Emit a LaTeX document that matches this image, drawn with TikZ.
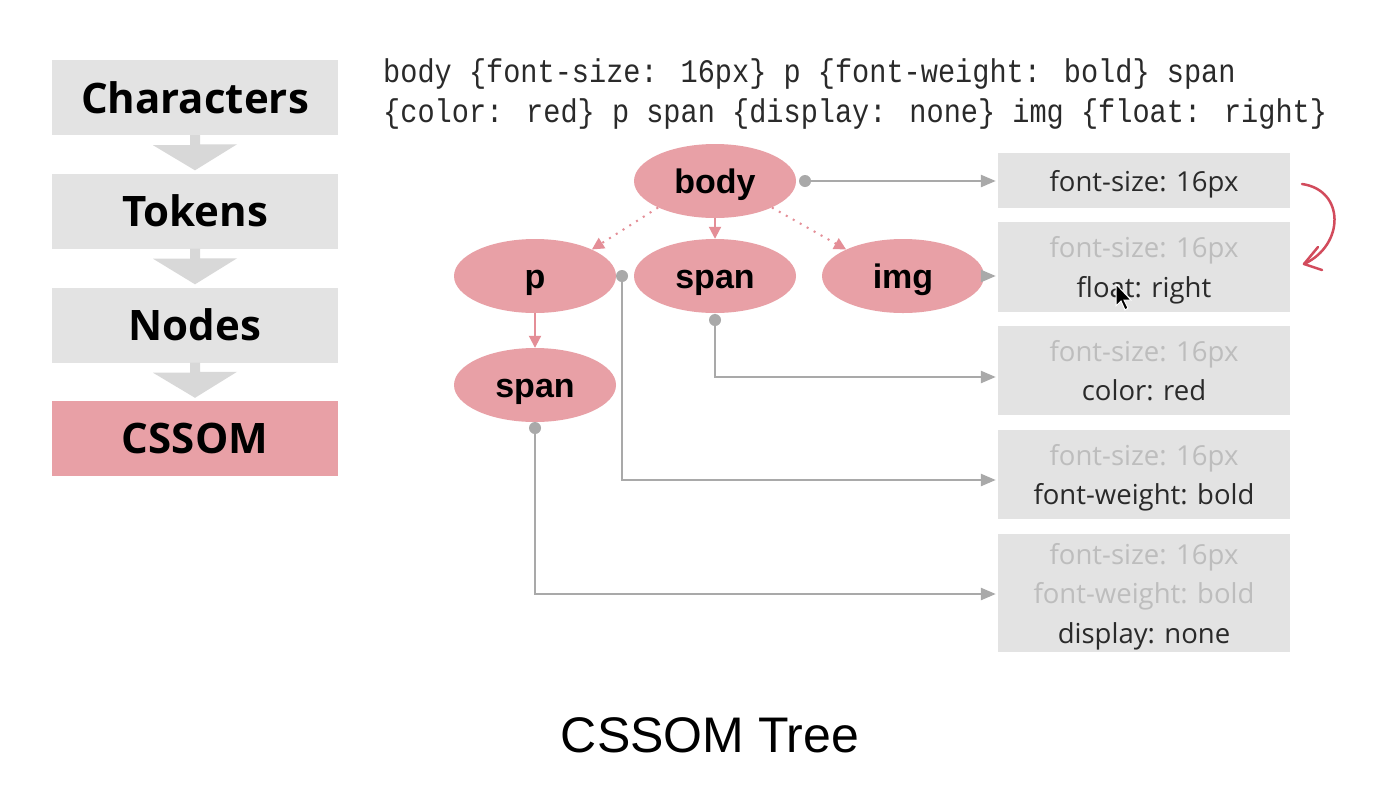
\documentclass[tikz,border=0pt]{standalone}
\usepackage{fontspec}
\setmainfont{Open Sans}
\newfontfamily\helv{Liberation Sans}
\newfontfamily\monof{Liberation Mono}
\usetikzlibrary{shapes.geometric,arrows.meta}
\definecolor{pinkfill}{HTML}{E8A0A6}
\definecolor{pinkline}{HTML}{E48E97}
\definecolor{boxgray}{HTML}{E3E3E3}
\definecolor{stepgray}{HTML}{D8D8D8}
\definecolor{linegray}{HTML}{A9A9A9}
\definecolor{fade}{HTML}{BDBDBD}
\definecolor{dark}{HTML}{2A2A2A}
\definecolor{handred}{HTML}{D24B5C}
\tikzset{
  stagebox/.style={fill=boxgray, minimum width=286pt, minimum height=75pt, inner sep=0pt,
    font=\fontspec{Open Sans Bold}\fontsize{42}{50}\selectfont, text=black},
  elnode/.style={ellipse, fill=pinkfill, minimum width=162pt, minimum height=74pt, inner sep=0pt,
    text height=25pt, text depth=0pt,
    font=\helv\bfseries\fontsize{34}{40}\selectfont, text=black},
  stylebox/.style={fill=boxgray, minimum width=292pt, inner sep=0pt, align=center, text depth=0pt,
    font=\fontsize{27.5}{39.5}\selectfont, text=dark},
  conn/.style={draw=linegray, line width=2.5pt, -{Triangle[length=15pt,width=12pt]}, shorten >=2pt},
  dotc/.style={fill=linegray},
  treeedge/.style={draw=pinkline, line width=2pt, -{Triangle[length=12pt,width=12pt]}},
  treedot/.style={draw=pinkline, line width=2pt, dash pattern=on 2pt off 6pt, -{Triangle[length=12pt,width=12pt]}},
  codeline/.style={anchor=base west, inner sep=0pt, font=\monof\fontsize{28.6}{34}\selectfont, text=dark},
}
\begin{document}
\begin{tikzpicture}[x=1pt,y=-1pt]
\useasboundingbox (0,0) rectangle (1388,788);
\fill[white] (0,0) rectangle (1388,788);

% left pipeline
\node[stagebox] (chars) at (195,97.5) {Characters};
\node[stagebox] (tokens) at (195,211) {Tokens};
\node[stagebox] (nodes) at (195,325) {Nodes};
\node[stagebox, fill=pinkfill] (cssom) at (195,438.5) {CSSOM};
\foreach \a/\b in {chars/tokens, tokens/nodes, nodes/cssom}{
  \fill[stepgray] ([xshift=-5pt]\a.south) -- ++(0,10) -- ++(-37,0) -- ([yshift=3pt]\b.north) -- ++(42,-26) -- ++(-37,0) -- ([xshift=5pt]\a.south) -- cycle;
}

% code
\node[codeline] (code1) at (383,82) {\scalebox{1}[1.15]{body \{font-size: 16px\} p \{font-weight: bold\} span}};
\node[codeline] (code2) at (383,122) {\scalebox{1}[1.15]{\{color: red\} p span \{display: none\} img \{float: right\}}};

% tree
\node[elnode] (body) at (715,181) {body};
\node[elnode] (p) at (535,276) {p};
\node[elnode] (span1) at (715,276) {span};
\node[elnode] (img) at (903,276) {img};
\node[elnode] (span2) at (535,385) {span};

\draw[treeedge] (body.south) -- (span1.north);
\draw[treeedge] (p.south) -- (span2.north);
\draw[treedot] (body.-155) -- (p.25);
\draw[treedot] (body.-25) -- (img.155);

% style boxes
\node[stylebox, minimum height=55pt] (b1) at (1144,180.5) {font-size: 16px};
\node[stylebox, minimum height=90pt] (b2) at (1144,267) {{\color{fade}font-size: 16px}\\float: right};
\node[stylebox, minimum height=89pt] (b3) at (1144,370.5) {{\color{fade}font-size: 16px}\\color: red};
\node[stylebox, minimum height=89pt] (b4) at (1144,474.5) {{\color{fade}font-size: 16px}\\font-weight: bold};
\node[stylebox, minimum height=118pt] (b5) at (1144,593) {{\color{fade}font-size: 16px}\\{\color{fade}font-weight: bold}\\display: none};

% connectors
\coordinate (dbody) at (805,181);
\coordinate (dp) at (622,276);
\coordinate (dspan1) at (715,320);
\coordinate (dspan2) at (535,428);
\foreach \c in {dbody,dp,dspan1,dspan2} \fill[dotc] (\c) circle (6);
\draw[conn] (dbody) -- (b1.west |- dbody);
\draw[conn] (img.east) -- (b2.west |- img.east);
\draw[conn] (dspan1) |- (b3.west |- 0,377);
\draw[conn] (dp) |- (b4.west |- 0,480);
\draw[conn] (dspan2) |- (b5.west |- 0,594);

% hand-drawn arrow
\coordinate (hs) at (1302,184);
\coordinate (he) at (1304,264);
\draw[handred, line width=2.5pt, line cap=round] (hs) .. controls (1345,190) and (1345,245) .. (he);
\draw[handred, line width=2.5pt, line cap=round, line join=round] (1318,247) -- (he) -- (1322,270);

% mouse cursor
\fill[black, draw=white, line width=1pt] (1116,284) -- (1116,306) -- (1121,301) -- (1125,310) -- (1128,308) -- (1124,300) -- (1131,300) -- cycle;

% title
\node[font=\helv\fontsize{50}{58}\selectfont, text=black] (title) at (710,735) {CSSOM Tree};
\end{tikzpicture}
\end{document}
